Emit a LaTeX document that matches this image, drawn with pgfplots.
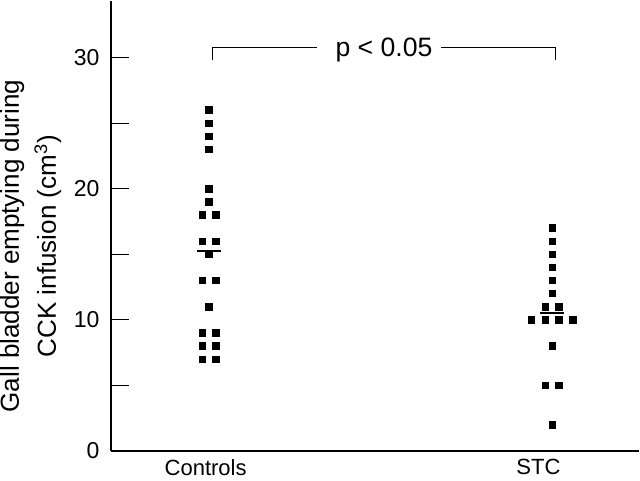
\documentclass[border=0pt]{standalone}
\usepackage{fontspec}
\setmainfont{Liberation Sans}
\usepackage{pgfplots}
\pgfplotsset{compat=1.18}

\begin{document}
\begin{tikzpicture}
\begin{axis}[
    scale only axis,
    width=264pt, height=225pt,
    xmin=0.714, xmax=2.254,
    ymin=0, ymax=34.34,
    axis x line=bottom, axis y line=left,
    axis line style={-, line width=0.7pt},
    xtick={0.99,1.96},
    xticklabels={Controls,STC},
    major x tick style={draw=none},
    ytick={0,10,20,30},
    minor ytick={5,15,25},
    tick align=inside,
    major tick length=9pt, minor tick length=9pt,
    every tick/.style={line width=0.6pt, black},
    xticklabel style={font=\fontsize{11}{13}\selectfont, inner sep=0pt, yshift=-4pt},
    yticklabel style={font=\fontsize{11.5}{13}\selectfont, inner sep=0pt, xshift=-5.5pt},
    /pgf/number format/assume math mode=true,
    ylabel={Gall bladder emptying during\\CCK infusion (cm\textsuperscript{3})},
    ylabel style={align=center, font=\fontsize{13}{18.5}\selectfont, inner sep=0pt,
        at={(axis description cs:-0.152,0.455)}, anchor=center},
    clip=false,
]
% Controls: single column at 1, side-by-side pairs at 1 +/- 0.02
\addplot[only marks, mark=square*, mark size=1.6pt, black] coordinates {
    (1,26) (1,25) (1,24) (1,23) (1,20) (1,19) (1,15) (1,11)
    (0.98,18) (1.02,18) (0.98,16) (1.02,16) (0.98,13) (1.02,13)
    (0.98,9) (1.02,9) (0.98,8) (1.02,8) (0.98,7) (1.02,7)
};
% STC
\addplot[only marks, mark=square*, mark size=1.6pt, black] coordinates {
    (2,17) (2,16) (2,15) (2,14) (2,13) (2,12) (2,8) (2,2)
    (1.98,11) (2.02,11) (1.98,10) (2.02,10) (1.94,10) (2.06,10)
    (1.98,5) (2.02,5)
};
% group means
\addplot[black, line width=1pt] coordinates {(0.965,15.25) (1.035,15.25)};
\addplot[black, line width=1pt] coordinates {(1.965,10.56) (2.035,10.56)};

% significance bracket
\draw[line width=0.6pt] (axis cs:1.01,29.8) |- (axis cs:1.315,30.8);
\draw[line width=0.6pt] (axis cs:1.676,30.8) -| (axis cs:2.01,29.8);
\node[anchor=base, font=\fontsize{13.3}{16}\selectfont] at (axis cs:1.51,30.07) {p < 0.05};
\end{axis}
% small margin below the category labels
\path ([yshift=-2.5pt]current bounding box.south);
\end{tikzpicture}
\end{document}
